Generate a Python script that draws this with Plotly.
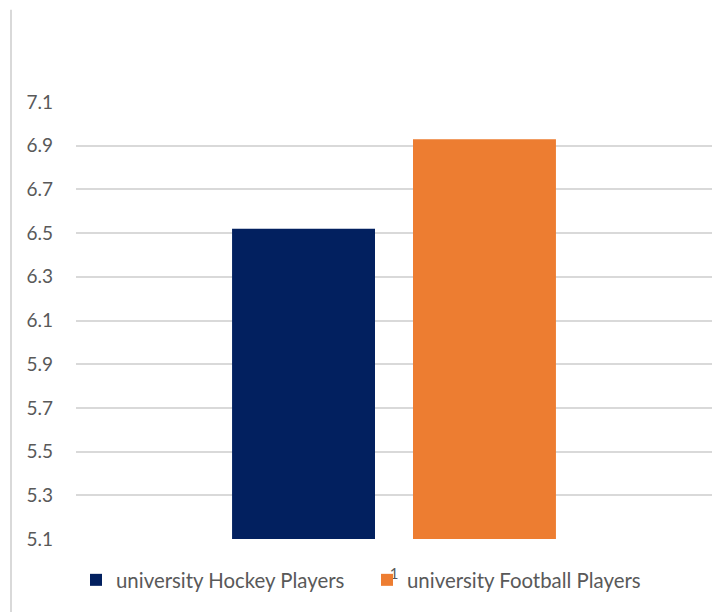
import plotly.graph_objects as go

categories = ["1"]
series_names = ["university Hockey Players", "university Football Players"]
series_values = [[6.52], [6.93]]
series_colors = ["#02205F", "#ED7D31"]
y_ticks = [5.1, 5.3, 5.5, 5.7, 5.9, 6.1, 6.3, 6.5, 6.7, 6.9, 7.1]

FONT = "Lato"
TXT = "#595959"

fig = go.Figure()
for name, vals, col in zip(series_names, series_values, series_colors):
    fig.add_trace(go.Bar(x=categories, y=vals, name=name, marker=dict(color=col, line=dict(width=0))))

fig.update_layout(
    width=712, height=612,
    margin=dict(l=76, r=0, t=102, b=73, pad=0),
    paper_bgcolor="white", plot_bgcolor="white",
    barmode="group", bargap=0.431, bargroupgap=0.21,
    font=dict(family=FONT, size=19, color=TXT),
    showlegend=True,
    legend=dict(orientation="h", x=0, xanchor="left", y=-0.094, yanchor="middle",
                font=dict(family=FONT, size=20.4, color=TXT), itemwidth=30,
                entrywidth=246, entrywidthmode="pixels", bgcolor="rgba(0,0,0,0)"),
    xaxis=dict(type="category", showgrid=False, showline=False, ticks="",
               ticklabelstandoff=24, tickfont=dict(size=15, color=TXT)),
    yaxis=dict(range=[5.0995, 7.1005], tickvals=y_ticks, ticktext=[f"{v:.1f}" for v in y_ticks],
               showgrid=True, gridcolor="#D9D9D9", gridwidth=1.5, zeroline=False, showline=False,
               ticks="", ticklabelstandoff=22),
    shapes=[dict(type="line", xref="paper", yref="paper", x0=-0.1022, x1=-0.1022, y0=1.2113, y1=-0.2,
                 line=dict(color="#D9D9D9", width=2))],
)

fig.write_html("out.html")
